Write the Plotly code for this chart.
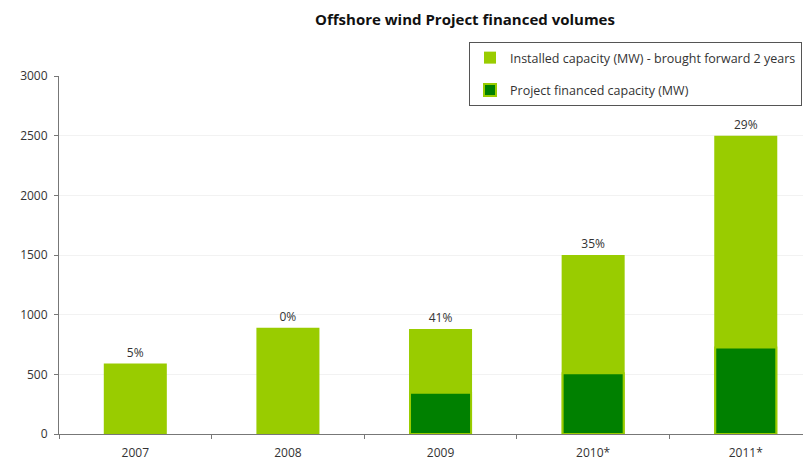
import plotly.graph_objects as go

categories = ["2007", "2008", "2009", "2010*", "2011*"]
installed = [590, 890, 880, 1500, 2500]
financed = [0, 0, 345, 510, 725]
pct_labels = ["5%", "0%", "41%", "35%", "29%"]

LIGHT = "#99CC00"
DARK = "#008000"
FONT = "Open Sans, sans-serif"

fig = go.Figure()
fig.add_trace(go.Bar(
    x=categories, y=installed, name="Installed capacity (MW) - brought forward 2 years",
    marker=dict(color=LIGHT, line=dict(width=0)),
    width=0.413, text=pct_labels, textposition="outside",
    textfont=dict(size=12, color="#333333", family=FONT),
    cliponaxis=False, legendgroup="a", hoverinfo="skip",
))
fig.add_trace(go.Bar(
    x=categories, y=financed, name="Project financed capacity (MW)",
    marker=dict(color=DARK, line=dict(width=2, color=LIGHT)),
    width=0.40, legendgroup="b", hoverinfo="skip",
))

fig.update_layout(
    width=803, height=461,
    barmode="overlay",
    margin=dict(l=59, r=0, t=76, b=27, autoexpand=False),
    paper_bgcolor="white", plot_bgcolor="white",
    font=dict(family=FONT, size=12, color="#333333"),
    title=dict(text="<b>Offshore wind Project financed volumes</b>",
               x=465 / 803, xanchor="center", xref="container",
               y=1 - 20 / 461, yanchor="middle", yref="container",
               font=dict(size=15, color="#111111", family=FONT)),
    legend=dict(x=(469 - 59) / 744, y=(434 - 42) / 358, xanchor="left", yanchor="top",
                bordercolor="#555555", borderwidth=1, bgcolor="white",
                font=dict(size=12.5, color="#333333", family=FONT),
                traceorder="grouped", tracegroupgap=13, itemwidth=30),
    showlegend=True,
)
fig.update_xaxes(
    type="category", range=[-0.5, 4.375],
    showline=True, linecolor="#777777", linewidth=1,
    ticks="outside", tickson="boundaries", ticklen=4, tickcolor="#777777",
    showgrid=False, ticklabelstandoff=8,
    tickfont=dict(size=12, color="#333333"),
)
fig.update_yaxes(
    range=[0, 3000], dtick=500,
    showline=True, linecolor="#777777", linewidth=1,
    ticks="outside", ticklen=4, tickcolor="#777777",
    showgrid=True, gridcolor="#f2f2f2", gridwidth=1,
    zeroline=False, ticklabelstandoff=4,
    tickfont=dict(size=12, color="#333333"),
)

fig.write_html("out.html")
